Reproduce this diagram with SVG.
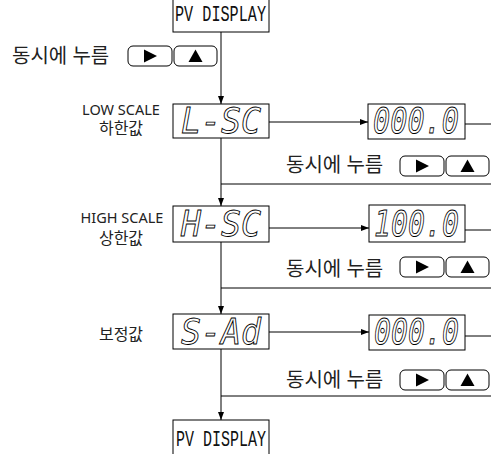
<svg xmlns="http://www.w3.org/2000/svg" width="491" height="454" viewBox="0 0 491 454">
<style>
.box{fill:#fff;stroke:#000;stroke-width:1}
.ln{fill:none;stroke:#000;stroke-width:1}
.kr{font-family:"Noto Sans","Noto Sans CJK KR",sans-serif;fill:#222}
.pv{font-family:"Liberation Mono","DejaVu Sans Mono",monospace;font-size:22px;fill:#111}
.seg{font-family:"DejaVu Sans Mono",monospace;font-style:oblique;font-size:35px;fill:#fff;stroke:#000;stroke-width:0.9}
.btn{fill:#fff;stroke:#000;stroke-width:1}
</style>
<defs>
<marker id="ah" markerWidth="8" markerHeight="6" refX="8" refY="3" orient="auto" markerUnits="userSpaceOnUse">
<path d="M0,0 L8,3 L0,6 z" fill="#000"/>
</marker>
<g id="btns">
<rect class="btn" x="0" y="0" width="44" height="20" rx="5"/>
<path d="M16,3.5 L29,10 L16,16.5 z" fill="#000"/>
<rect class="btn" x="46" y="0" width="43" height="20" rx="5"/>
<path d="M60.5,16 L67.5,3.5 L74.5,16 z" fill="#000"/>
</g>
</defs>

<g id="connectors">
<line class="ln" x1="221" y1="32" x2="221" y2="104" marker-end="url(#ah)"/>
<line class="ln" x1="269" y1="122" x2="368" y2="122" marker-end="url(#ah)"/>
<line class="ln" x1="465" y1="124" x2="491" y2="124"/>
<line class="ln" x1="221" y1="138" x2="221" y2="206" marker-end="url(#ah)"/>
<line class="ln" x1="491" y1="184" x2="221" y2="184"/>
<line class="ln" x1="269" y1="228" x2="369" y2="228" marker-end="url(#ah)"/>
<line class="ln" x1="465" y1="230" x2="491" y2="230"/>
<line class="ln" x1="221" y1="242" x2="221" y2="314" marker-end="url(#ah)"/>
<line class="ln" x1="491" y1="288" x2="221" y2="288"/>
<line class="ln" x1="269" y1="332" x2="369" y2="332" marker-end="url(#ah)"/>
<line class="ln" x1="465" y1="336" x2="491" y2="336"/>
<line class="ln" x1="221" y1="349" x2="221" y2="420" marker-end="url(#ah)"/>
<line class="ln" x1="491" y1="396" x2="221" y2="396"/>
</g>

<g id="pv-top">
<rect class="box" x="173" y="-1" width="96" height="33"/>
<text class="pv" x="175" y="21" textLength="91" lengthAdjust="spacingAndGlyphs">PV DISPLAY</text>
</g>

<g id="press-1">
<text class="kr" x="12" y="63" font-size="20">동시에 누름</text>
<use href="#btns" x="128" y="46"/>
</g>

<g id="lsc">
<text class="kr" x="121" y="115" font-size="14.5" text-anchor="middle">LOW SCALE</text>
<text class="kr" x="121" y="134" font-size="16" text-anchor="middle">하한값</text>
<rect class="box" x="173" y="104" width="96" height="34"/>
<text class="seg" x="181" y="133" textLength="80" lengthAdjust="spacingAndGlyphs">L-SC</text>
</g>

<g id="val-1">
<rect class="box" x="368" y="104" width="97" height="35"/>
<text class="seg" x="373" y="133" textLength="86" lengthAdjust="spacingAndGlyphs">000.0</text>
</g>

<g id="press-2">
<text class="kr" x="286" y="172" font-size="20">동시에 누름</text>
<use href="#btns" x="400" y="156"/>
</g>

<g id="hsc">
<text class="kr" x="122" y="223" font-size="14.5" text-anchor="middle">HIGH SCALE</text>
<text class="kr" x="121" y="244" font-size="16" text-anchor="middle">상한값</text>
<rect class="box" x="173" y="206" width="96" height="36"/>
<text class="seg" x="181" y="236" textLength="80" lengthAdjust="spacingAndGlyphs">H-SC</text>
</g>

<g id="val-2">
<rect class="box" x="369" y="205" width="96" height="37"/>
<text class="seg" x="374" y="236" textLength="85" lengthAdjust="spacingAndGlyphs">100.0</text>
</g>

<g id="press-3">
<text class="kr" x="286" y="276" font-size="20">동시에 누름</text>
<use href="#btns" x="400" y="257"/>
</g>

<g id="sad">
<text class="kr" x="121" y="340" font-size="16" text-anchor="middle">보정값</text>
<rect class="box" x="173" y="314" width="96" height="35"/>
<text class="seg" x="181" y="344" textLength="80" lengthAdjust="spacingAndGlyphs">S-Ad</text>
</g>

<g id="val-3">
<rect class="box" x="369" y="315" width="96" height="35"/>
<text class="seg" x="374" y="344" textLength="85" lengthAdjust="spacingAndGlyphs">000.0</text>
</g>

<g id="press-4">
<text class="kr" x="286" y="387" font-size="20">동시에 누름</text>
<use href="#btns" x="400" y="370"/>
</g>

<g id="pv-bottom">
<rect class="box" x="173" y="420" width="96" height="36"/>
<text class="pv" x="176" y="446" textLength="90" lengthAdjust="spacingAndGlyphs">PV DISPLAY</text>
</g>
</svg>
